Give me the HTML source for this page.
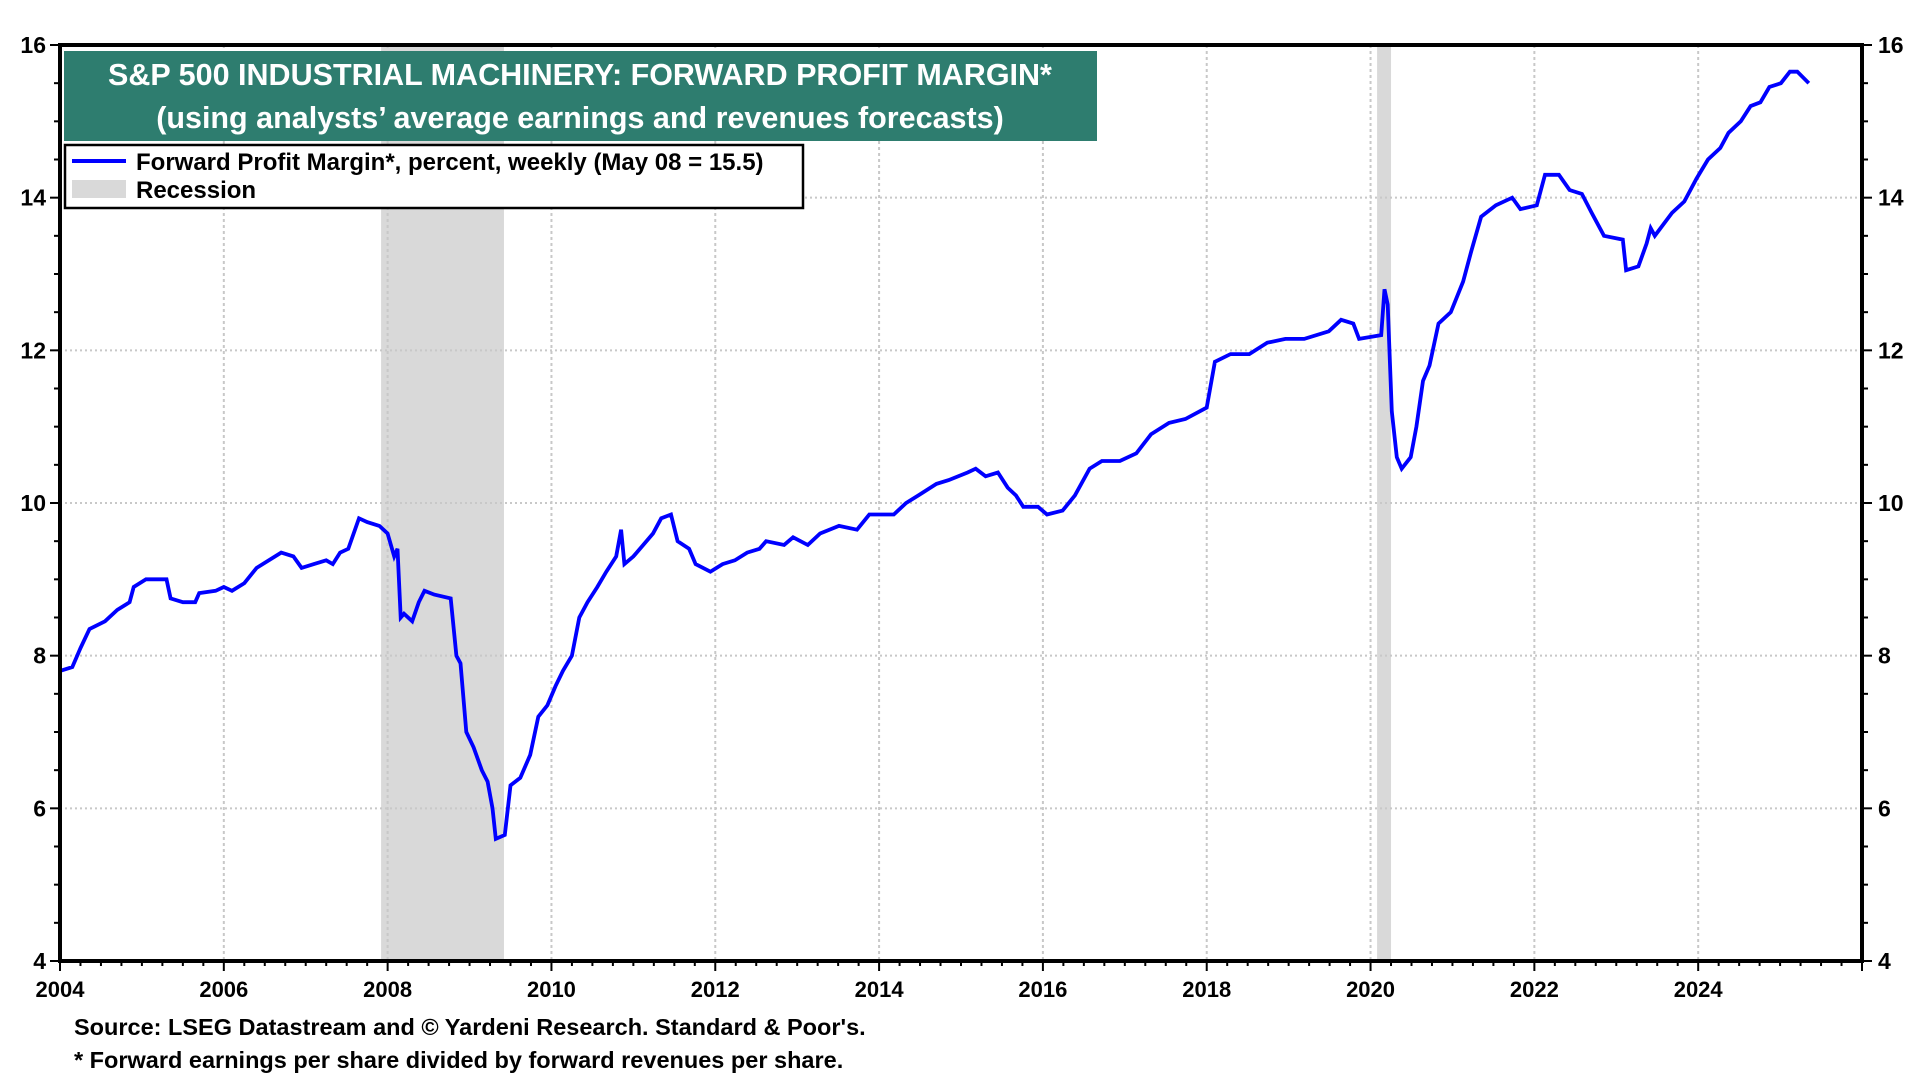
<!DOCTYPE html>
<html><head><meta charset="utf-8"><style>
body{margin:0;background:#fff;width:1920px;height:1080px;overflow:hidden;font-family:"Liberation Sans",Arial,sans-serif}
svg{position:absolute;left:0;top:0}
</style></head><body>
<svg id="chart" width="1920" height="1080"></svg>
<script>
const years=[2004,2004.15,2004.25,2004.36,2004.55,2004.7,2004.85,2004.9,2005.05,2005.3,2005.35,2005.5,2005.65,2005.7,2005.9,2006.0,2006.1,2006.25,2006.4,2006.55,2006.7,2006.85,2006.95,2007.1,2007.25,2007.33,2007.42,2007.52,2007.65,2007.75,2007.9,2008.0,2008.08,2008.12,2008.16,2008.2,2008.3,2008.38,2008.45,2008.57,2008.77,2008.84,2008.89,2008.96,2009.05,2009.15,2009.22,2009.28,2009.32,2009.43,2009.5,2009.62,2009.74,2009.84,2009.95,2010.05,2010.14,2010.25,2010.34,2010.44,2010.56,2010.67,2010.79,2010.85,2010.89,2011.0,2011.12,2011.24,2011.34,2011.46,2011.54,2011.68,2011.76,2011.94,2012.09,2012.24,2012.39,2012.54,2012.62,2012.84,2012.95,2013.13,2013.28,2013.51,2013.73,2013.88,2014.18,2014.33,2014.48,2014.7,2014.85,2015.08,2015.18,2015.3,2015.45,2015.57,2015.67,2015.76,2015.94,2016.05,2016.24,2016.39,2016.57,2016.72,2016.94,2017.14,2017.32,2017.54,2017.74,2018.0,2018.1,2018.29,2018.52,2018.74,2018.96,2019.19,2019.49,2019.64,2019.79,2019.86,2020.13,2020.17,2020.21,2020.26,2020.32,2020.38,2020.49,2020.56,2020.64,2020.72,2020.83,2020.98,2021.13,2021.23,2021.35,2021.53,2021.73,2021.83,2022.03,2022.13,2022.3,2022.43,2022.58,2022.7,2022.85,2023.08,2023.12,2023.27,2023.37,2023.42,2023.47,2023.68,2023.83,2023.98,2024.12,2024.27,2024.37,2024.52,2024.64,2024.76,2024.87,2025.01,2025.12,2025.21,2025.35];
const margins=[7.8,7.85,8.1,8.35,8.45,8.6,8.7,8.9,9.0,9.0,8.75,8.7,8.7,8.82,8.85,8.9,8.85,8.95,9.15,9.25,9.35,9.3,9.15,9.2,9.25,9.2,9.35,9.4,9.8,9.75,9.7,9.6,9.3,9.4,8.5,8.55,8.45,8.7,8.85,8.8,8.75,8.0,7.9,7.0,6.8,6.5,6.35,6.0,5.6,5.65,6.3,6.4,6.7,7.2,7.35,7.6,7.8,8.0,8.5,8.7,8.9,9.1,9.3,9.65,9.2,9.3,9.45,9.6,9.8,9.85,9.5,9.4,9.2,9.1,9.2,9.25,9.35,9.4,9.5,9.45,9.55,9.45,9.6,9.7,9.65,9.85,9.85,10.0,10.1,10.25,10.3,10.4,10.45,10.35,10.4,10.2,10.1,9.95,9.95,9.85,9.9,10.1,10.45,10.55,10.55,10.65,10.9,11.05,11.1,11.25,11.85,11.95,11.95,12.1,12.15,12.15,12.25,12.4,12.35,12.15,12.2,12.8,12.6,11.2,10.6,10.45,10.6,11.0,11.6,11.8,12.35,12.5,12.9,13.3,13.75,13.9,14.0,13.85,13.9,14.3,14.3,14.1,14.05,13.8,13.5,13.45,13.05,13.1,13.4,13.6,13.5,13.8,13.95,14.25,14.5,14.65,14.85,15.0,15.2,15.25,15.45,15.5,15.65,15.65,15.5];
const yTicks=[4,6,8,10,12,14,16];
const xTickYears=[2004,2006,2008,2010,2012,2014,2016,2018,2020,2022,2024];
const recessions=[[2007.92,2009.42],[2020.08,2020.25]];

const L=60,R=1862,T=45,B=961;
const X0=2004,X1=2026;
const xs=y=>L+(y-X0)/(X1-X0)*(R-L);
const ys=v=>B-(v-4)/12*(B-T);
const svg=document.getElementById('chart');
const NS='http://www.w3.org/2000/svg';
function mk(tag,attrs,parent){const e=document.createElementNS(NS,tag);for(const k in attrs)e.setAttribute(k,attrs[k]);(parent||svg).appendChild(e);return e;}

recessions.forEach(r=>{
  const e=mk('rect',{x:xs(r[0]),y:T,width:xs(r[1])-xs(r[0]),height:B-T,fill:'#d9d9d9'});
  
  
});
yTicks.forEach(v=>{
  if(v>4&&v<16){const g=mk('line',{x1:L,x2:R,y1:ys(v),y2:ys(v),stroke:'#c8c8c8','stroke-width':2,'stroke-dasharray':'2 3'});
  
  }
});
xTickYears.forEach(y=>{
  if(y>X0){const g=mk('line',{x1:xs(y),x2:xs(y),y1:T,y2:B,stroke:'#c8c8c8','stroke-width':2,'stroke-dasharray':'3 3'});
  
  }
});
for(let v=4;v<=16;v+=0.5){
  const big=Number.isInteger(v/2);
  mk('line',{x1:L-(big?10:6),x2:L,y1:ys(v),y2:ys(v),stroke:'#000','stroke-width':2});
  mk('line',{x1:R,x2:R+(big?10:6),y1:ys(v),y2:ys(v),stroke:'#000','stroke-width':2});
}
for(let q=X0;q<=X1;q+=0.25){
  const big=Number.isInteger(q)&&(q%2===0);
  mk('line',{x1:xs(q),x2:xs(q),y1:B,y2:B+(big?10:5),stroke:'#000','stroke-width':2});
}
yTicks.forEach(v=>{
  const t=mk('text',{x:L-14,y:ys(v)+8,'text-anchor':'end','font-size':23,'font-weight':'bold'});t.textContent=v;
  
  
  const t2=mk('text',{x:R+16,y:ys(v)+8,'font-size':23,'font-weight':'bold'});t2.textContent=v;
  
  
});
xTickYears.forEach(y=>{
  const t=mk('text',{x:xs(y),y:B+36,'text-anchor':'middle','font-size':22,'font-weight':'bold'});t.textContent=y;
  
  
});
const pts=years.map((y,i)=>xs(y).toFixed(1)+','+ys(margins[i]).toFixed(1)).join(' ');
const line=mk('polyline',{points:pts,fill:'none',stroke:'#0000ff','stroke-width':3.8,'stroke-linejoin':'miter'});


const frame=mk('rect',{x:L,y:T,width:R-L,height:B-T,fill:'none',stroke:'#000','stroke-width':4});


</script>
<svg width="1920" height="1080" style="pointer-events:none">
<g>
<rect x="64" y="51" width="1033" height="90" fill="#2e7d6f"/>
<text x="580" y="85" text-anchor="middle" fill="#fff" font-size="30.5" font-weight="bold" font-family="Liberation Sans,sans-serif">S&amp;P 500 INDUSTRIAL MACHINERY: FORWARD PROFIT MARGIN*</text>
<text x="580" y="128" text-anchor="middle" fill="#fff" font-size="30.5" font-weight="bold" font-family="Liberation Sans,sans-serif">(using analysts’ average earnings and revenues forecasts)</text>
</g>
<g>
<rect x="65" y="145" width="738" height="63" fill="#fff" stroke="#000" stroke-width="2.5"/>
<line x1="72" x2="126" y1="161" y2="161" stroke="#0000ff" stroke-width="4"/>
<text x="136" y="170" font-size="24" font-weight="bold" font-family="Liberation Sans,sans-serif">Forward Profit Margin*, percent, weekly (May 08 = 15.5)</text>
<rect x="72" y="180" width="54" height="18" fill="#d9d9d9"/>
<text x="136" y="198" font-size="24" font-weight="bold" font-family="Liberation Sans,sans-serif">Recession</text>
</g>
<text x="74" y="1035" font-size="23.5" font-weight="bold" font-family="Liberation Sans,sans-serif">Source: LSEG Datastream and © Yardeni Research. Standard &amp; Poor's.</text>
<text x="74" y="1068" font-size="23.5" font-weight="bold" font-family="Liberation Sans,sans-serif">* Forward earnings per share divided by forward revenues per share.</text>
</svg>
</body></html>
